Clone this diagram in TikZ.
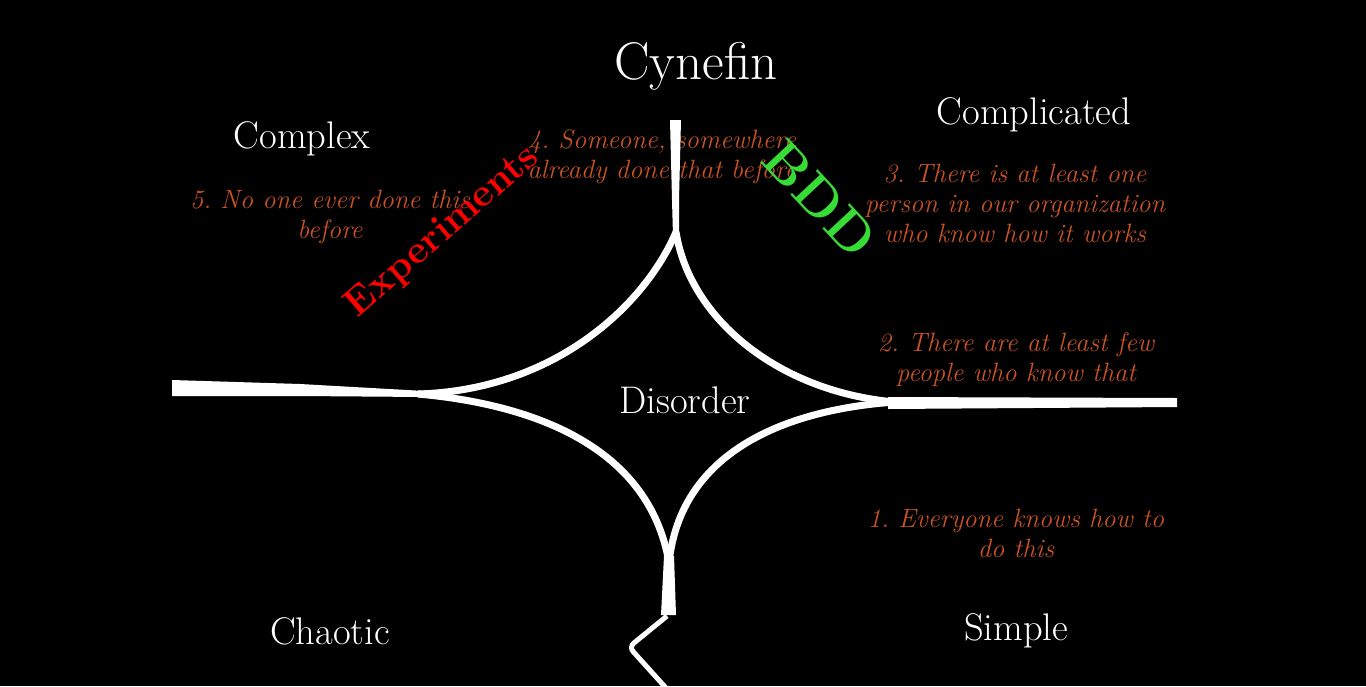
\documentclass[tikz,border=0pt]{standalone}
\usepackage{fontspec}
\frenchspacing
\definecolor{notecol}{RGB}{200,82,38}
\definecolor{bddgreen}{RGB}{55,220,55}
\begin{document}
\begin{tikzpicture}[x=1pt,y=-1pt,
  lbl/.style={text=white, inner sep=0pt, font=\fontsize{38.5}{44}\selectfont},
  note/.style={text=notecol, inner sep=0pt, align=center, font=\fontsize{26.5}{30}\selectfont\itshape},
  arc/.style={draw=white, line width=7pt},
  solid white/.style={fill=white, draw=none}]
\fill[black] (0,0) rectangle (1366,686);
\useasboundingbox (0,0) rectangle (1366,686);

% notes (below the shapes)
\node[note] (n5) at (330,217) {5. No one ever done this\\before};
\node[note] (n4) at (662,157) {4. Someone, somewhere\\already done that before};
\node[note] (n3) at (1015,203) {3. There is at least one\\person in our organization\\who know how it works};
\node[note] (n2) at (1016,360) {2. There are at least few\\people who know that};
\node[note] (n1) at (1016,533) {1. Everyone knows how to\\do this};

% key points of the figure
\coordinate (ctop) at (676,232);
\coordinate (cbot) at (669,563);
\coordinate (cleft) at (418,394);
\coordinate (cright) at (895,402);

% arcs
\draw[arc] (ctop) .. controls (645,305) and (555,390) .. (cleft);
\draw[arc] (ctop) .. controls (690,320) and (780,392) .. (cright);
\draw[arc] (cleft) .. controls (540,405) and (650,450) .. (cbot);
\draw[arc] (cright) .. controls (780,410) and (680,455) .. (cbot);

% spikes and lines
\fill[solid white] (670,120) -- (681,120) -- (679,200) -- (679,236) -- (673,236) -- (672,200) -- cycle;
\fill[solid white] (664,556) -- (674,556) -- (676,615) -- (661,615) -- cycle;
\fill[solid white] (172,380) -- (300,384) -- (425,391) -- (425,397) -- (300,396) -- (172,396) -- cycle;
\fill[solid white] (888,397) -- (1177,398) -- (1177,407) -- (888,409) -- cycle;
\coordinate (sq1) at (667,616);
\coordinate (sq2) at (629,647);
\coordinate (sq3) at (666,688);
\draw[white, line width=5pt, rounded corners=6pt] (sq1) -- (sq2) -- (sq3);

% labels
\node[text=white, inner sep=0pt, font=\fontsize{53}{60}\selectfont] (title) at (696,66) {Cynefin};
\node[lbl] (complex) at (302,139) {Complex};
\node[lbl] (complicated) at (1034,115) {Complicated};
\node[lbl] (disorder) at (685,400) {Disorder};
\node[lbl] (chaotic) at (330,631) {Chaotic};
\node[lbl] (simple) at (1016,631) {Simple};

% overlay words
\node[text=red, inner sep=0pt, rotate=41, font=\fontsize{39}{44}\selectfont\bfseries] (exper) at (443,232) {Experiments};
\node[text=bddgreen, inner sep=0pt, rotate=-47, font=\fontsize{54}{60}\selectfont\bfseries] (bdd) at (820,199) {BDD};
\end{tikzpicture}
\end{document}
